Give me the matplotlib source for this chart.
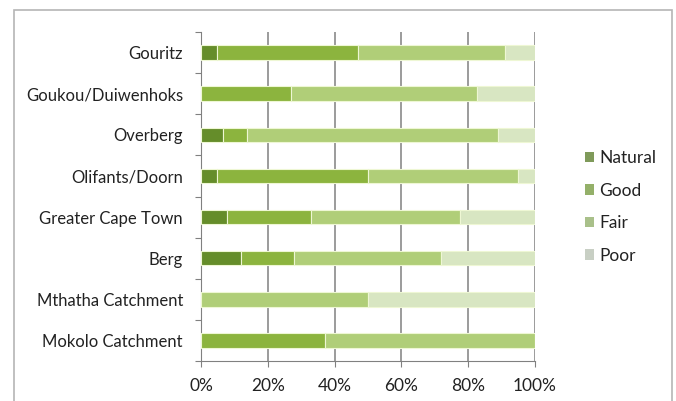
import matplotlib.pyplot as plt
from matplotlib.patches import Rectangle, Patch
import numpy as np

plt.rcParams["font.family"] = ["Lato", "DejaVu Sans"]

catchments = [
    "Gouritz",
    "Goukou/Duiwenhoks",
    "Overberg",
    "Olifants/Doorn",
    "Greater Cape Town",
    "Berg",
    "Mthatha Catchment",
    "Mokolo Catchment",
]
natural = [4.7, 0, 6.7, 4.7, 7.9, 11.9, 0, 0]
good = [42.3, 27, 7, 45.3, 25.1, 15.8, 0, 37]
fair = [44, 55.5, 75.3, 44.8, 44.6, 44.1, 50, 63]
poor = [9, 17.5, 11, 5.2, 22.4, 28.2, 50, 0]

series_names = ["Natural", "Good", "Fair", "Poor"]
colors = ["#658d2a", "#8cb43e", "#b0ce78", "#d8e6c2"]

fig = plt.figure(figsize=(6.76, 4.01), dpi=100)

# outer chart frame
frame = Rectangle((14 / 676, -0.05), (672 - 14) / 676, 1.05 - 10 / 401,
                  transform=fig.transFigure, fill=False,
                  edgecolor="#b5b5b5", linewidth=1.2)
fig.patches.append(frame)

ax = fig.add_axes([201 / 676, 1 - 361 / 401, 334 / 676, 329 / 401])

y = np.arange(len(catchments))
left = np.zeros(len(catchments))
for vals, name, col in zip([natural, good, fair, poor], series_names, colors):
    vals = np.array(vals) / 100
    ax.barh(y, vals, left=left, height=0.35, color=col,
            edgecolor="#eef7d4", linewidth=0.8, label=name, zorder=3)
    left += vals

ax.set_xlim(0, 1)
ax.set_ylim(len(catchments) - 0.5, -0.5)

ax.set_xticks(np.linspace(0, 1, 6))
ax.set_xticklabels([f"{int(v)}%" for v in np.linspace(0, 100, 6)])
ax.grid(axis="x", color="#808080", linewidth=1.1, zorder=0)

# category boundaries as major ticks, names as minor ticks
ax.set_yticks(np.arange(-0.5, len(catchments), 1))
ax.set_yticklabels([])
ax.set_yticks(y, minor=True)
ax.set_yticklabels(catchments, minor=True)
ax.tick_params(axis="y", which="minor", length=0, pad=13,
               labelsize=12, labelcolor="#222222")
ax.tick_params(axis="y", which="major", length=4, color="#808080")
ax.tick_params(axis="x", length=4, color="#808080", pad=8,
               labelsize=12.5, labelcolor="#222222")

for s in ["top", "right"]:
    ax.spines[s].set_visible(False)
for s in ["left", "bottom"]:
    ax.spines[s].set_color("#808080")

handles = [Patch(facecolor=c, edgecolor="none") for c in ["#7f9a5a", "#94b069", "#a9c08a", "#c8cfc4"]]
fig.legend(handles, series_names, loc="center left",
           bbox_to_anchor=(569 / 676, 1 - 207 / 401), frameon=False,
           fontsize=12.5, handlelength=0.55, handleheight=0.55,
           handletextpad=0.3, labelspacing=0.95, labelcolor="#222222")

fig.savefig("out.png", dpi=100)
